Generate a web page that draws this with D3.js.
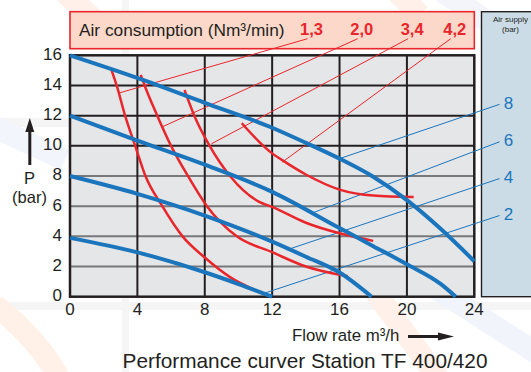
<!DOCTYPE html>
<html>
<head>
<meta charset="utf-8">
<script src="https://cdn.jsdelivr.net/npm/d3@7"></script>
<style>
  body { margin: 0; background: #fff; }
  svg { display: block; font-family: "Liberation Sans", Arial, sans-serif; }
</style>
</head>
<body>
<div class="canvas"></div>
<script>
// chart values
const flowTicks = [0, 4, 8, 12, 16, 20, 24];
const pressureTicks = [0, 2, 4, 6, 8, 10, 12, 14, 16];
const darkGridRows = [10, 12, 14];

const supplyLabels = ["8", "6", "4", "2"];
const supply8 = [[0, 16], [4, 14.5], [8, 12.85], [12, 11.2], [14, 10.2], [16, 9.15], [18, 7.95], [20, 6.4], [22, 4.5], [24, 2.35]];
const supply6 = [[0, 12], [4, 10.35], [8, 8.75], [12, 6.95], [16, 4.55], [18, 3.35], [20, 2.15], [22, 0.85], [22.9, 0]];
const supply4 = [[0, 8], [4, 6.82], [8, 5.38], [12, 3.65], [14, 2.65], [16, 1.6], [17.9, 0]];
const supply2 = [[0, 3.9], [4, 2.94], [8, 1.62], [10, 0.84], [12, 0]];
// leader lines for air supply labels: [label end, point on curve]
const supplyLeaders = [[[25.5, 12.75], [16, 9.15]], [[25.5, 10.27], [14.5, 5.6]], [[25.5, 7.83], [12.86, 3.1]], [[25.5, 5.38], [11.5, 0.22]]];

const consumptionLabels = ["1,3", "2,0", "3,4", "4,2"];
const cons13 = [[2.47, 15], [2.77, 14], [3.27, 12], [3.87, 10], [4.48, 8], [5.48, 6], [6.68, 4], [8, 2.6], [9.5, 1.3], [11.5, 0.2]];
const cons20 = [[4.2, 14.7], [4.43, 14], [5.18, 12], [6, 10], [7, 8], [8.13, 6], [9.9, 4], [12, 2.95], [14, 2], [16.5, 1.35]];
const cons34 = [[6.8, 13.7], [7.38, 12], [8.29, 10], [9.5, 8], [11.2, 6.3], [12, 5.95], [14, 4.9], [16, 4.2], [18, 3.7]];
const cons42 = [[10.2, 11.5], [11.2, 10.3], [12, 9.5], [12.6, 9.05], [14, 8.1], [16, 7.1], [18, 6.7], [20.4, 6.6]];
const consLeaders = [[[14.1, 17.1], [2.97, 13.52]], [[17.08, 17.1], [5.44, 11.24]], [[20.07, 17.1], [8.39, 10.13]], [[22.6, 17.1], [12.6, 8.92]]];

const supplyCurves = [supply8, supply6, supply4, supply2];
const consCurves = [cons13, cons20, cons34, cons42];

const width = 531, height = 372;
const margin = { left: 70, right: 56, top: 55.3, bottom: 75.3 };

const svg = d3.select('.canvas')
  .append('svg')
  .attr('width', width)
  .attr('height', height);

// faint watermark bands behind the chart
const bg = svg.append('g').attr('fill', 'none').attr('stroke-width', 22);
bg.append('rect').attr('x', 122).attr('y', 0).attr('width', 7).attr('height', 372).attr('fill', '#f4f5f4').attr('stroke', 'none');
bg.append('rect').attr('x', 0).attr('y', 302).attr('width', 531).attr('height', 8).attr('fill', '#f4f5f4').attr('stroke', 'none');
bg.append('rect').attr('x', 0).attr('y', 118).attr('width', 70).attr('height', 9).attr('fill', '#f4f5f4').attr('stroke', 'none');
bg.append('path').attr('d', 'M-5,305 C20,325 45,350 60,380').attr('stroke', '#fff0e8');
bg.append('path').attr('d', 'M62,-10 L100,25').attr('stroke', '#fff1ea');
bg.append('path').attr('d', 'M-10,125 L65,160').attr('stroke', '#f3f5fc');
bg.append('path').attr('d', 'M370,285 L440,380').attr('stroke', '#fff1ea');
bg.append('path').attr('d', 'M395,-10 L420,15').attr('stroke', '#fff1ea');
bg.append('path').attr('d', 'M430,285 C470,310 500,330 540,355').attr('stroke', '#f1f4fb');
bg.append('path').attr('d', 'M440,-10 L500,30').attr('stroke', '#f3f5fb');

const x = d3.scaleLinear().domain([0, 24]).range([margin.left, width - margin.right - 0.7]);
const y = d3.scaleLinear().domain([0, 16]).range([height - margin.bottom, margin.top]);

// air consumption header box
svg.append('rect')
  .attr('x', x(0))
  .attr('y', 11.7)
  .attr('width', x(24) - x(0))
  .attr('height', 37)
  .attr('fill', '#fbd8ca')
  .attr('stroke', '#e9262b')
  .attr('stroke-width', 1.6);

svg.append('text')
  .attr('x', 79)
  .attr('y', 31)
  .attr('dominant-baseline', 'middle')
  .attr('font-size', 17.3)
  .attr('fill', '#231f20')
  .text('Air consumption (Nm³/min)');

svg.selectAll('.cons-label')
  .data(consumptionLabels)
  .join('text')
  .attr('class', 'cons-label')
  .attr('x', (d, i) => x(consLeaders[i][0][0]) + 4)
  .attr('y', 31)
  .attr('dominant-baseline', 'middle')
  .attr('text-anchor', 'middle')
  .attr('font-size', 16.5)
  .attr('font-weight', 'bold')
  .attr('fill', '#e9262b')
  .text(d => d);

// air supply side panel
svg.append('rect')
  .attr('x', 481.5)
  .attr('y', 11.7)
  .attr('width', 60)
  .attr('height', y(0) - 11.7)
  .attr('fill', '#cbdce7')
  .attr('stroke', '#231f20')
  .attr('stroke-width', 1.4);

svg.append('text')
  .attr('x', 510.5)
  .attr('y', 21.5)
  .attr('text-anchor', 'middle')
  .attr('font-size', 8)
  .attr('fill', '#231f20')
  .text('Air supply');
svg.append('text')
  .attr('x', 510.5)
  .attr('y', 32)
  .attr('text-anchor', 'middle')
  .attr('font-size', 8)
  .attr('fill', '#231f20')
  .text('(bar)');

// plot background
svg.append('rect')
  .attr('x', x(0))
  .attr('y', y(16))
  .attr('width', x(24) - x(0))
  .attr('height', y(0) - y(16))
  .attr('fill', '#e5e6e8');

// horizontal grid
svg.selectAll('.hgrid')
  .data(pressureTicks.filter(d => d > 0 && d < 16))
  .join('line')
  .attr('class', 'hgrid')
  .attr('x1', x(0))
  .attr('x2', x(24))
  .attr('y1', d => y(d))
  .attr('y2', d => y(d))
  .attr('stroke', d => darkGridRows.includes(d) ? '#231f20' : '#77787b')
  .attr('stroke-width', 2);

// vertical grid
svg.selectAll('.vgrid')
  .data(flowTicks.filter(d => d > 0 && d < 24))
  .join('line')
  .attr('class', 'vgrid')
  .attr('x1', d => x(d))
  .attr('x2', d => x(d))
  .attr('y1', y(0))
  .attr('y2', y(16))
  .attr('stroke', '#231f20')
  .attr('stroke-width', 2);

// frame
svg.append('rect')
  .attr('x', x(0))
  .attr('y', y(16))
  .attr('width', x(24) - x(0))
  .attr('height', y(0) - y(16))
  .attr('fill', 'none')
  .attr('stroke', '#231f20')
  .attr('stroke-width', 2.5);

const line = d3.line()
  .x(d => x(d[0]))
  .y(d => y(d[1]))
  .curve(d3.curveMonotoneX);

const straight = d3.line()
  .x(d => x(d[0]))
  .y(d => y(d[1]));

// thin leader lines
svg.selectAll('.cons-leader')
  .data(consLeaders)
  .join('path')
  .attr('class', 'cons-leader')
  .attr('d', straight)
  .attr('fill', 'none')
  .attr('stroke', '#e9262b')
  .attr('stroke-width', 1);

svg.selectAll('.supply-leader')
  .data(supplyLeaders)
  .join('path')
  .attr('class', 'supply-leader')
  .attr('d', straight)
  .attr('fill', 'none')
  .attr('stroke', '#1b75bc')
  .attr('stroke-width', 1);

// air consumption curves
svg.selectAll('.cons')
  .data(consCurves)
  .join('path')
  .attr('class', 'cons')
  .attr('d', line)
  .attr('fill', 'none')
  .attr('stroke', '#e9262b')
  .attr('stroke-width', 2.5);

// air supply curves
svg.selectAll('.supply')
  .data(supplyCurves)
  .join('path')
  .attr('class', 'supply')
  .attr('d', line)
  .attr('fill', 'none')
  .attr('stroke', '#1b75bc')
  .attr('stroke-width', 4);

svg.selectAll('.supply-label')
  .data(supplyLabels)
  .join('text')
  .attr('class', 'supply-label')
  .attr('x', x(25.5) + 9)
  .attr('y', (d, i) => y(supplyLeaders[i][0][1]))
  .attr('dominant-baseline', 'middle')
  .attr('text-anchor', 'middle')
  .attr('font-size', 17)
  .attr('fill', '#1b75bc')
  .text(d => d);

// axes labels
svg.selectAll('.ytick')
  .data(pressureTicks)
  .join('text')
  .attr('class', 'ytick')
  .attr('x', 62)
  .attr('y', d => y(d))
  .attr('dominant-baseline', 'middle')
  .attr('text-anchor', 'end')
  .attr('font-size', 17)
  .attr('fill', '#231f20')
  .text(d => d);

svg.selectAll('.xtick')
  .data(flowTicks)
  .join('text')
  .attr('class', 'xtick')
  .attr('x', d => x(d))
  .attr('y', y(0) + 14)
  .attr('dominant-baseline', 'middle')
  .attr('text-anchor', 'middle')
  .attr('font-size', 17)
  .attr('fill', '#231f20')
  .text(d => d);

svg.append('text')
  .attr('x', 29.5)
  .attr('y', 180)
  .attr('dominant-baseline', 'middle')
  .attr('text-anchor', 'middle')
  .attr('font-size', 16.5)
  .attr('fill', '#231f20')
  .text('P');
svg.append('text')
  .attr('x', 29.5)
  .attr('y', 199)
  .attr('dominant-baseline', 'middle')
  .attr('text-anchor', 'middle')
  .attr('font-size', 16.5)
  .attr('fill', '#231f20')
  .text('(bar)');

// P arrow
svg.append('line')
  .attr('x1', 29.8).attr('x2', 29.8)
  .attr('y1', 165).attr('y2', 130)
  .attr('stroke', '#231f20')
  .attr('stroke-width', 3);
svg.append('path')
  .attr('d', 'M29.8,118 L25.3,132 L34.3,132 Z')
  .attr('fill', '#231f20');

svg.append('text')
  .attr('x', 292)
  .attr('y', 337)
  .attr('dominant-baseline', 'middle')
  .attr('font-size', 16.8)
  .attr('fill', '#231f20')
  .text('Flow rate m³/h');

// flow arrow
svg.append('line')
  .attr('x1', 408).attr('x2', 442)
  .attr('y1', 336.5).attr('y2', 336.5)
  .attr('stroke', '#231f20')
  .attr('stroke-width', 3);
svg.append('path')
  .attr('d', 'M454,336.5 L438,332.5 L438,340.5 Z')
  .attr('fill', '#231f20');

svg.append('text')
  .attr('x', 305)
  .attr('y', 362.5)
  .attr('dominant-baseline', 'middle')
  .attr('text-anchor', 'middle')
  .attr('font-size', 20.8)
  .attr('fill', '#231f20')
  .text('Performance curver Station TF 400/420');
</script>
</body>
</html>
